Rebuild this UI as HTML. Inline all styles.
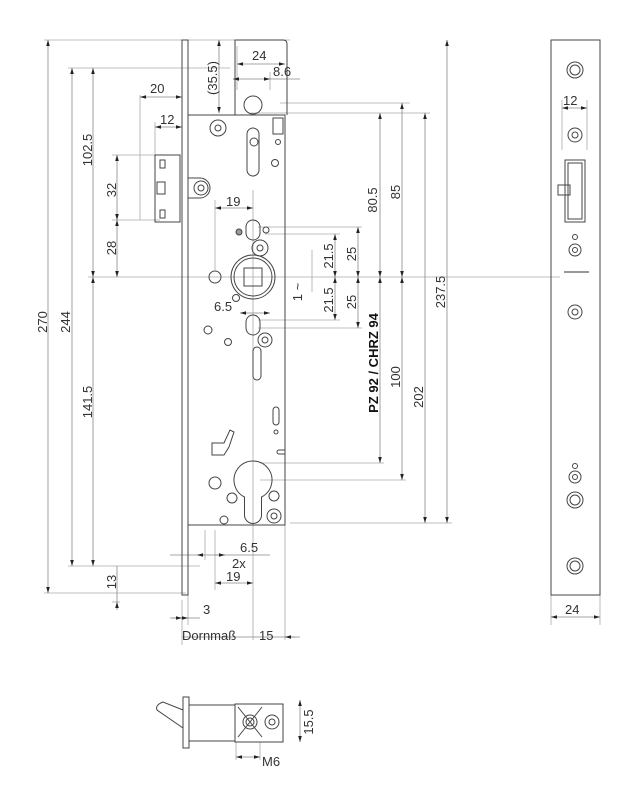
<!DOCTYPE html>
<html><head><meta charset="utf-8"><style>
html,body{margin:0;padding:0;background:#fff}
svg{display:block}
text{font-family:"Liberation Sans",sans-serif;font-size:13px;fill:#333}
.d{stroke:#aaa;stroke-width:0.8;fill:none}
.o{stroke:#444;stroke-width:1;fill:none}
</style></head><body>
<svg width="639" height="800" viewBox="0 0 639 800" xmlns="http://www.w3.org/2000/svg">
<defs>
<marker id="m" viewBox="0 0 10 10" refX="10" refY="5" markerUnits="userSpaceOnUse" markerWidth="9" markerHeight="6" orient="auto-start-reverse"><path d="M0,2 L10,5 L0,8z" fill="#222"/></marker>
</defs>
<g class="d">
<line x1="44" y1="40" x2="290" y2="40"/>
<line x1="68" y1="68" x2="230" y2="68"/>
<line x1="44" y1="593" x2="186" y2="593"/>
<line x1="68" y1="566" x2="200" y2="566"/>
<line x1="88" y1="277" x2="560" y2="277"/>
<line x1="112" y1="155" x2="160" y2="155"/>
<line x1="112" y1="220" x2="160" y2="220"/>
<line x1="112" y1="602" x2="120" y2="602"/>
<line x1="140" y1="95" x2="140" y2="220"/>
<line x1="155" y1="122" x2="155" y2="160"/>
<line x1="280" y1="103" x2="410" y2="103"/>
<line x1="250" y1="113" x2="430" y2="113"/>
<line x1="258" y1="227" x2="362" y2="227"/>
<line x1="265" y1="234" x2="340" y2="234"/>
<line x1="258" y1="320" x2="340" y2="320"/>
<line x1="258" y1="328" x2="362" y2="328"/>
<line x1="260" y1="463" x2="384" y2="463"/>
<line x1="260" y1="480" x2="406" y2="480"/>
<line x1="290" y1="523" x2="452" y2="523"/>
<line x1="253" y1="190" x2="253" y2="640"/>
<line x1="215" y1="200" x2="215" y2="270"/>
<line x1="182" y1="600" x2="182" y2="645"/>
<line x1="188" y1="595" x2="188" y2="625"/>
<line x1="285" y1="520" x2="285" y2="640"/>
<line x1="205" y1="530" x2="205" y2="560"/>
<line x1="215" y1="530" x2="215" y2="590"/>
<line x1="237" y1="46" x2="237" y2="90"/>
<line x1="270" y1="72" x2="270" y2="90"/>
<line x1="551" y1="595" x2="551" y2="625"/>
<line x1="600" y1="595" x2="600" y2="625"/>
<line x1="562" y1="100" x2="562" y2="150"/>
<line x1="587" y1="100" x2="587" y2="150"/>
<line x1="312" y1="250" x2="312" y2="292"/>
<line x1="236" y1="742" x2="236" y2="760"/>
<line x1="260" y1="742" x2="260" y2="760"/>
</g>
<g class="d" marker-start="url(#m)" marker-end="url(#m)" style="stroke:#888">
<line x1="48" y1="40" x2="48" y2="593"/>
<line x1="72" y1="68" x2="72" y2="566"/>
<line x1="93" y1="68" x2="93" y2="277"/>
<line x1="93" y1="277" x2="93" y2="566"/>
<line x1="117" y1="155" x2="117" y2="220"/>
<line x1="117" y1="220" x2="117" y2="277"/>
<line x1="140" y1="97" x2="182" y2="97"/>
<line x1="155" y1="127" x2="182" y2="127"/>
<line x1="219" y1="40" x2="219" y2="113"/>
<line x1="237" y1="64" x2="285" y2="64"/>
<line x1="215" y1="208" x2="253" y2="208"/>
<line x1="240" y1="313" x2="270" y2="313"/>
<line x1="335" y1="234" x2="335" y2="277"/>
<line x1="335" y1="277" x2="335" y2="320"/>
<line x1="358" y1="227" x2="358" y2="277"/>
<line x1="358" y1="277" x2="358" y2="328"/>
<line x1="380" y1="113" x2="380" y2="277"/>
<line x1="380" y1="277" x2="380" y2="463"/>
<line x1="402" y1="103" x2="402" y2="277"/>
<line x1="402" y1="277" x2="402" y2="480"/>
<line x1="425" y1="113" x2="425" y2="523"/>
<line x1="447" y1="40" x2="447" y2="523"/>
<line x1="215" y1="583" x2="253" y2="583"/>
<line x1="551" y1="617" x2="600" y2="617"/>
<line x1="562" y1="108" x2="587" y2="108"/>
<line x1="236" y1="757" x2="260" y2="757"/>
<line x1="300" y1="700" x2="300" y2="742"/>
</g>
<g class="d" style="stroke:#888">
<line x1="117" y1="566" x2="117" y2="602"/>
<line x1="233" y1="79" x2="300" y2="79"/>
<line x1="170" y1="555" x2="270" y2="555"/>
<line x1="170" y1="618" x2="200" y2="618"/>
<line x1="182" y1="637" x2="300" y2="637"/>
</g>
<g marker-end="url(#m)" class="d" style="stroke:#888">
<line x1="205" y1="555" x2="197" y2="555"/><line x1="215" y1="555" x2="225" y2="555"/>
<line x1="180" y1="618" x2="188" y2="618"/><line x1="172" y1="618" x2="182" y2="618"/>
<line x1="237" y1="79" x2="233" y2="79"/><line x1="266" y1="79" x2="270" y2="79"/>
<line x1="295" y1="637" x2="285" y2="637"/>
<line x1="117" y1="610" x2="117" y2="602"/>
</g>
<!-- main lock -->
<g class="o">
<rect x="182" y="40" width="6" height="555"/>
<rect x="188" y="115" width="97" height="410"/>
<path d="M235,115 V40 H283 Q287,40 287,44 V115"/>
<circle cx="253" cy="105" r="9"/>
<path d="M155,155 h25 v67 h-25 z M160,160 h5 v8 h-5z M160,210 h5 v8 h-5z M157,182 h8 v12 h-8z"/>
<path d="M188,178 h12 a10,10 0 0 1 0,20 h-12"/>
<circle cx="201" cy="188" r="7"/><circle cx="201" cy="188" r="3"/>
<circle cx="218" cy="128" r="8"/><circle cx="218" cy="128" r="3"/>
<rect x="247" y="128" width="12" height="48" rx="6"/>
<circle cx="254" cy="142" r="4"/>
<rect x="273" y="118" width="10" height="16"/>
<circle cx="278" cy="142" r="2.5"/><circle cx="275" cy="163" r="3.5"/>
<rect x="246" y="220" width="14" height="20" rx="7"/>
<circle cx="239" cy="232" r="3" style="fill:#999"/>
<circle cx="266" cy="230" r="3"/>
<circle cx="260" cy="248" r="8"/><circle cx="260" cy="248" r="3"/>
<circle cx="253" cy="277" r="22"/><circle cx="253" cy="277" r="19"/>
<rect x="244" y="268" width="18" height="18"/>
<circle cx="215" cy="277" r="6"/>
<circle cx="236" cy="298" r="3.5"/>
<rect x="246" y="315" width="14" height="20" rx="7"/>
<circle cx="208" cy="330" r="4"/><circle cx="228" cy="342" r="3.5"/>
<circle cx="265" cy="340" r="7"/><circle cx="265" cy="340" r="3"/>
<rect x="253" y="347" width="8" height="33" rx="4"/>
<rect x="273" y="407" width="6" height="18" rx="3"/><circle cx="276" cy="432" r="2"/>
<path d="M212,455 h12 l5,-8 l5,-15 l-4,-2 l-6,13 h-12 z"/>
<path d="M244.5,497 A19,19 0 1 1 261.5,497 V515 A8.5,8.5 0 0 1 244.5,515 Z"/>
<path d="M285,450 h-6 a2,2 0 0 0 0,4 h6"/>
<circle cx="215" cy="483" r="6"/><circle cx="232" cy="498" r="5"/><circle cx="274" cy="496" r="5"/>
<circle cx="224" cy="520" r="4"/><circle cx="274" cy="516" r="7"/><circle cx="274" cy="516" r="3"/>
</g>
<!-- side view -->
<g class="o">
<rect x="551" y="40" width="49" height="555"/>
<circle cx="575" cy="70" r="8"/><circle cx="575" cy="70" r="5"/>
<circle cx="575" cy="135" r="7"/><circle cx="575" cy="135" r="3"/>
<path d="M565,160 h20 v62 h-20 z M568,163 h14 v56 h-14 z"/>
<path d="M558,185 h12 v10 h-12 z"/>
<circle cx="575" cy="237" r="2.5"/><circle cx="575" cy="250" r="6"/><circle cx="575" cy="250" r="2.5"/>
<circle cx="575" cy="312" r="7"/><circle cx="575" cy="312" r="3"/>
<circle cx="575" cy="466" r="2.5"/><circle cx="575" cy="477" r="6"/><circle cx="575" cy="477" r="2.5"/>
<circle cx="575" cy="500" r="8"/><circle cx="575" cy="500" r="5"/>
<circle cx="575" cy="566" r="8"/><circle cx="575" cy="566" r="5"/>
</g>
<line x1="564" y1="272" x2="589" y2="272" stroke="#777" stroke-width="1.5"/>
<!-- bottom detail -->
<g class="o">
<rect x="183" y="697" width="6" height="51"/>
<rect x="189" y="705" width="46" height="36"/>
<rect x="235" y="704" width="48" height="38"/>
<circle cx="250" cy="722" r="7"/><circle cx="250" cy="722" r="4"/>
<circle cx="272" cy="722" r="7"/><circle cx="272" cy="722" r="3"/>
<path d="M238,707 l24,30 M262,707 l-24,30"/>
<path d="M183,710 l-20,-8 q-8,3 -6,8 l26,18"/>
</g>
<!-- labels -->
<text transform="translate(47,322) rotate(-90)" text-anchor="middle">270</text>
<text transform="translate(70,322) rotate(-90)" text-anchor="middle">244</text>
<text transform="translate(92,150) rotate(-90)" text-anchor="middle">102.5</text>
<text transform="translate(92,402) rotate(-90)" text-anchor="middle">141.5</text>
<text transform="translate(116,190) rotate(-90)" text-anchor="middle">32</text>
<text transform="translate(116,248) rotate(-90)" text-anchor="middle">28</text>
<text transform="translate(116,582) rotate(-90)" text-anchor="middle">13</text>
<text x="150" y="93">20</text>
<text x="160" y="124">12</text>
<text transform="translate(217,78) rotate(-90)" text-anchor="middle">(35.5)</text>
<text x="252" y="60">24</text>
<text x="273" y="76">8.6</text>
<text x="226" y="206">19</text>
<text x="214" y="311">6.5</text>
<text transform="translate(333,256) rotate(-90)" text-anchor="middle">21.5</text>
<text transform="translate(333,300) rotate(-90)" text-anchor="middle">21.5</text>
<text transform="translate(356,254) rotate(-90)" text-anchor="middle">25</text>
<text transform="translate(356,302) rotate(-90)" text-anchor="middle">25</text>
<text transform="translate(302,292) rotate(-90)" text-anchor="middle">1 ~</text>
<text transform="translate(377,200) rotate(-90)" text-anchor="middle">80.5</text>
<text transform="translate(400,192) rotate(-90)" text-anchor="middle">85</text>
<text transform="translate(400,377) rotate(-90)" text-anchor="middle">100</text>
<text transform="translate(423,397) rotate(-90)" text-anchor="middle">202</text>
<text transform="translate(445,292) rotate(-90)" text-anchor="middle">237.5</text>
<text transform="translate(378,363) rotate(-90)" text-anchor="middle" style="font-weight:bold;fill:#111">PZ 92 / CHRZ 94</text>
<text x="240" y="552">6.5</text>
<text x="232" y="568">2x</text>
<text x="226" y="581">19</text>
<text x="203" y="614">3</text>
<text x="182" y="640">Dornmaß</text>
<text x="259" y="640">15</text>
<text x="563" y="105">12</text>
<text x="565" y="614">24</text>
<text x="262" y="766">M6</text>
<text transform="translate(313,722) rotate(-90)" text-anchor="middle">15.5</text>
</svg>
</body></html>
